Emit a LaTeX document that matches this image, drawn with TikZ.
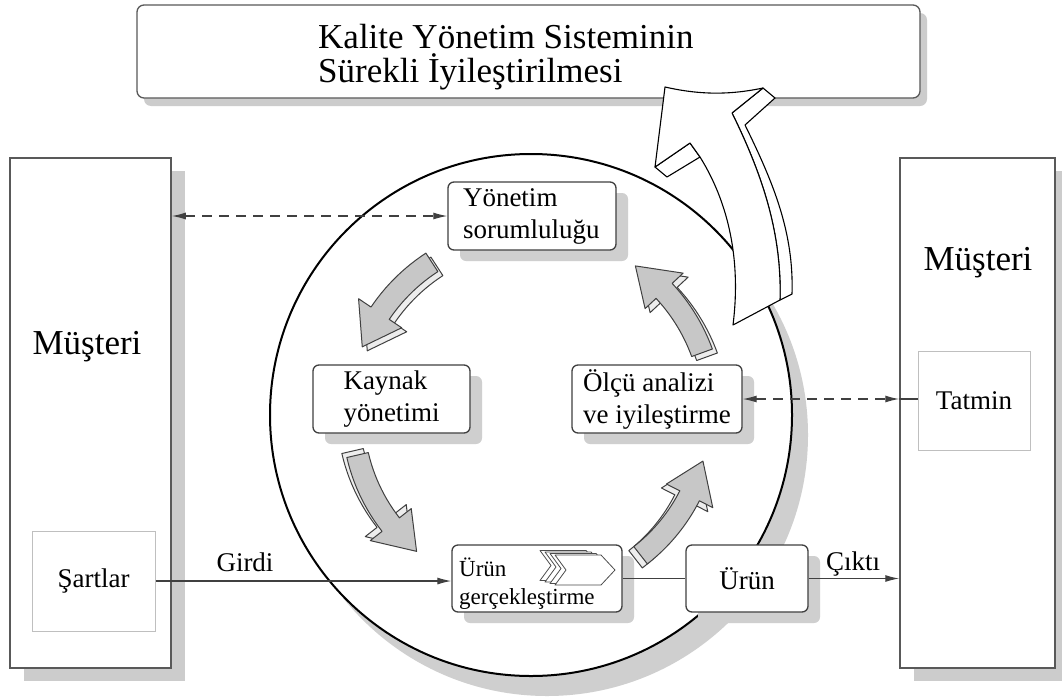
\documentclass[tikz,border=0pt]{standalone}
\usepackage{fontspec}
\setmainfont{Liberation Serif}
\usetikzlibrary{arrows.meta,shadows,calc}

% curved grey block arrow running round the cycle centre (531,415)
% #1 tail angle, #2 tip angle, #3 mid radius, #4/#5 offset of the side face
\newcommand\ringarrow[5]{%
  \pgfmathsetmacro\ringhb{#2+12}%
  \draw[ringside, shift={(#4,#5)}]
    plot[domain=#1:\ringhb, samples=14] ({531+(#3+11)*cos(\x)},{415+(#3+11)*sin(\x)})
    -- ({531+(#3+26)*cos(\ringhb)},{415+(#3+26)*sin(\ringhb)})
    -- ({531+#3*cos(#2)},{415+#3*sin(#2)})
    -- ({531+(#3-26)*cos(\ringhb)},{415+(#3-26)*sin(\ringhb)})
    -- ({531+(#3-11)*cos(\ringhb)},{415+(#3-11)*sin(\ringhb)})
    -- plot[domain=\ringhb:#1, samples=14] ({531+(#3-11)*cos(\x)},{415+(#3-11)*sin(\x)})
    -- cycle;
  \draw[ringface]
    plot[domain=#1:\ringhb, samples=14] ({531+(#3+11)*cos(\x)},{415+(#3+11)*sin(\x)})
    -- ({531+(#3+26)*cos(\ringhb)},{415+(#3+26)*sin(\ringhb)})
    -- ({531+#3*cos(#2)},{415+#3*sin(#2)})
    -- ({531+(#3-26)*cos(\ringhb)},{415+(#3-26)*sin(\ringhb)})
    -- ({531+(#3-11)*cos(\ringhb)},{415+(#3-11)*sin(\ringhb)})
    -- plot[domain=\ringhb:#1, samples=14] ({531+(#3-11)*cos(\x)},{415+(#3-11)*sin(\x)})
    -- cycle;
}

\tikzset{
  custbox/.style={draw=black!65, line width=1.5pt, fill=white, rectangle, inner sep=0pt,
    drop shadow={shadow xshift=14pt, shadow yshift=-13pt, fill=black!20, opacity=1}},
  innerbox/.style={draw=black!25, line width=1pt, fill=white, rectangle, inner sep=0pt,
    font=\fontsize{27}{32}\selectfont},
  stepbox/.style={draw=black!75, line width=1.3pt, fill=white, rectangle, rounded corners=6pt,
    inner sep=0pt, align=left, font=\fontsize{27}{32}\selectfont,
    drop shadow={shadow xshift=12pt, shadow yshift=-11pt, fill=black!19, opacity=1}},
  bigtext/.style={font=\fontsize{35}{34}\selectfont, inner sep=0pt},
  midtext/.style={font=\fontsize{27}{32}\selectfont, inner sep=0pt},
  flow/.style={draw=black!75, line width=1.2pt},
  dashflow/.style={dash pattern=on 10pt off 7pt},
  flowtip/.style={-{Latex[length=14pt,width=7pt]}},
  bothtips/.style={{Latex[length=14pt,width=7pt]}-{Latex[length=14pt,width=7pt]}},
  ringface/.style={draw=black!75, line width=1pt, fill=black!22, line join=round},
  ringside/.style={draw=black!75, line width=1pt, fill=black!7, line join=round},
  chevron/.style={draw=black!70, line width=0.8pt, fill=white, line join=round},
  bigarrow/.style={draw=black, line width=1.1pt, fill=white, line join=round},
}

\begin{document}
\begin{tikzpicture}[x=1pt, y=-1pt]
  \fill[white] (0,0) rectangle (1062,699);
  \useasboundingbox (0,0) rectangle (1062,699);

  % customers on both sides
  \node[custbox, minimum width=161pt, minimum height=510pt] (lm) at (90.5,413) {};
  \node[bigtext] (lmt) at (87,347) {Müşteri};
  \node[innerbox, minimum width=123pt, minimum height=100pt] (sart) at (93.5,581) {Şartlar};

  \node[custbox, minimum width=155pt, minimum height=510pt] (rm) at (977.5,413) {};
  \node[bigtext] (rmt) at (978,263) {Müşteri};
  \node[innerbox, minimum width=112pt, minimum height=99pt] (tat) at (974,400.5) {Tatmin};

  % title box
  \node[draw=black!65, line width=1.3pt, fill=white, rectangle, rounded corners=7pt,
        minimum width=783pt, minimum height=93pt,
        drop shadow={shadow xshift=7pt, shadow yshift=-8pt, fill=black!20, opacity=1}]
        (top) at (528.5,51.5) {};
  \node[bigtext, anchor=west, align=left] (ttl) at (318,57)
        {Kalite Yönetim Sisteminin\\Sürekli İyileştirilmesi};

  % the process cycle
  \node[circle, draw=black, line width=2pt, fill=white, minimum size=522pt, inner sep=0pt,
        drop shadow={shadow xshift=16pt, shadow yshift=-20pt, fill=black!19, opacity=1}]
        (cyc) at (531,415) {};

  \node[stepbox, minimum width=168pt, minimum height=68pt, text width=138pt] (ys) at (532,216)
        {Yönetim\\sorumluluğu};
  \node[stepbox, minimum width=157pt, minimum height=68pt] (ky) at (391.5,399)
        {Kaynak\\yönetimi};
  \node[stepbox, minimum width=170pt, minimum height=68pt] (ol) at (657,399)
        {Ölçü analizi\\ve iyileştirme};
  \node[stepbox, minimum width=170pt, minimum height=67pt] (ug) at (537,578.5) {};
  \node[inner sep=0pt, anchor=west, align=left, font=\fontsize{23}{28}\selectfont]
        (ugt) at (459,584) {Ürün\\gerçekleştirme};
  \node[stepbox, minimum width=122pt, minimum height=67pt] (ur) at (747,578.5) {Ürün};

  % stacked chevrons inside the realisation box
  \coordinate (chev) at (555,555);
  \foreach \s in {3,2,1,0}{
    \draw[chevron, shift={(chev)}, shift={(-5*\s,-1.5*\s)}]
      (0,0) -- (46,0) -- (60,15) -- (46,30) -- (0,30) -- (11,15) -- cycle;
  }

  % grey cycle arrows
  \ringarrow{-123}{-158}{182}{5}{4}
  \ringarrow{-20}{-55}{182}{5}{4}
  \ringarrow{167}{130}{178}{-5}{-4}
  \ringarrow{52}{15}{178}{-5}{4}

  % information and material flows
  \draw[flow, dashflow, bothtips] (ys.west -| lm.east) -- (ys.west);
  \draw[flow, dashflow, bothtips] (ol.east) -- (ol.east -| rm.west);
  \draw[flow] (ol.east -| rm.west) -- (ol.east -| tat.west);

  \draw[flow, flowtip] (sart.east) -- (sart.east -| ug.west);
  \node[midtext] (gin) at (245,562) {Girdi};
  \draw[flow] (ug.east) -- (ur.west);
  \draw[flow, flowtip] (ur.east) -- (ur.east -| rm.west);
  \node[midtext] (cik) at (853,564) {Çıktı};

  % continual improvement arrow leaving the cycle
  \draw[bigarrow] (763,88) -- (775,98) -- (745,125)
        .. controls (773,182) and (794,232) .. (792,294) -- (780,300)
        .. controls (782,230) and (760,170) .. (732,113) -- cycle;
  \draw[bigarrow] (655,167) -- (667,177) -- (700,157) -- (690,143) -- cycle;
  \draw[bigarrow] (665,87) .. controls (700,95) and (730,95) .. (763,88) -- (732,113)
        .. controls (760,170) and (782,230) .. (780,300) -- (733,325)
        .. controls (740,270) and (733,210) .. (700,157) -- (690,143) -- (655,167) -- cycle;
\end{tikzpicture}
\end{document}
